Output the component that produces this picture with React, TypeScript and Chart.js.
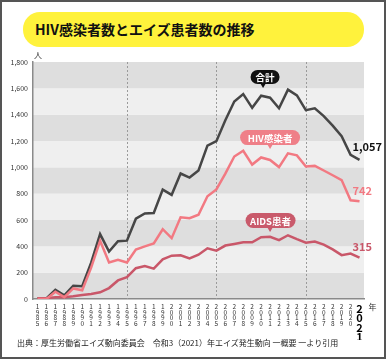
import React, { useEffect, useRef } from 'react';
import { Chart, registerables } from 'chart.js';

Chart.register(...registerables);

const YEARS = ['1985','1986','1987','1988','1989','1990','1991','1992','1993','1994','1995','1996','1997','1998','1999','2000','2001','2002','2003','2004','2005','2006','2007','2008','2009','2010','2011','2012','2013','2014','2015','2016','2017','2018','2019','2020','2021'];
const HIV = [0,0,55,14,80,66,238,442,277,298,277,376,400,422,530,462,621,614,640,780,832,952,1082,1126,1021,1075,1056,1002,1106,1091,1006,1011,976,940,903,750,742];
const AIDS = [6,5,14,14,21,31,38,51,83,141,166,234,250,231,301,329,332,308,336,385,367,406,418,431,431,469,473,447,484,455,428,437,413,377,333,345,315];
const TOTAL = [6,5,69,28,101,97,276,493,360,439,443,610,650,653,831,791,953,922,976,1165,1199,1358,1500,1557,1452,1544,1529,1449,1590,1546,1434,1448,1389,1317,1236,1095,1057];
const DIVIDER_YEARS = ['1995','2005','2015'];
const Y_MAX = 1800;
const Y_STEP = 200;

const TITLE = 'HIV感染者数とエイズ患者数の推移';
const SOURCE = '出典：厚生労働省エイズ動向委員会　令和3（2021）年エイズ発生動向 一概要 一より引用';

const C_TOTAL = '#464646';
const C_HIV = '#f27982';
const C_AIDS = '#c95769';
const FONT = '"Noto Sans CJK JP", "Noto Sans", sans-serif';

function roundRect(ctx: CanvasRenderingContext2D, x: number, y: number, w: number, h: number, r: number) {
  ctx.beginPath();
  ctx.moveTo(x + r, y);
  ctx.lineTo(x + w - r, y);
  ctx.arcTo(x + w, y, x + w, y + r, r);
  ctx.lineTo(x + w, y + h - r);
  ctx.arcTo(x + w, y + h, x + w - r, y + h, r);
  ctx.lineTo(x + r, y + h);
  ctx.arcTo(x, y + h, x, y + h - r, r);
  ctx.lineTo(x, y + r);
  ctx.arcTo(x, y, x + r, y, r);
  ctx.closePath();
}

function callout(ctx: CanvasRenderingContext2D, cx: number, cy: number, w: number, h: number, text: string, fill: string, ptrX: number) {
  ctx.save();
  ctx.fillStyle = fill;
  roundRect(ctx, cx - w / 2, cy - h / 2, w, h, h / 2);
  ctx.fill();
  ctx.beginPath();
  ctx.moveTo(ptrX - 3, cy + h / 2 - 1);
  ctx.lineTo(ptrX + 3, cy + h / 2 - 1);
  ctx.lineTo(ptrX, cy + h / 2 + 4);
  ctx.closePath();
  ctx.fill();
  ctx.fillStyle = '#ffffff';
  ctx.font = `bold 9.5px ${FONT}`;
  ctx.textAlign = 'center';
  ctx.textBaseline = 'middle';
  ctx.fillText(text, cx, cy + 0.5);
  ctx.restore();
}

const bandsPlugin = {
  id: 'bands',
  beforeDraw(chart: any) {
    const { ctx, chartArea, scales } = chart;
    const y = scales.y;
    ctx.save();
    for (let v = 0, i = 0; v < Y_MAX; v += Y_STEP, i++) {
      const top = y.getPixelForValue(v + Y_STEP);
      const bot = y.getPixelForValue(v);
      ctx.fillStyle = i % 2 === 0 ? '#dedede' : '#efefef';
      ctx.fillRect(chartArea.left, top, chartArea.right - chartArea.left, bot - top);
    }
    ctx.restore();
  },
  beforeDatasetsDraw(chart: any) {
    const { ctx, chartArea, scales } = chart;
    const x = scales.x;
    ctx.save();
    ctx.strokeStyle = '#9a9a9a';
    ctx.lineWidth = 1;
    ctx.setLineDash([2, 2]);
    DIVIDER_YEARS.forEach((yr) => {
      const px = Math.round(x.getPixelForValue(YEARS.indexOf(yr))) + 0.5;
      ctx.beginPath();
      ctx.moveTo(px, chartArea.top);
      ctx.lineTo(px, chartArea.bottom);
      ctx.stroke();
    });
    ctx.restore();
  },
  afterDraw(chart: any) {
    const { ctx, chartArea, scales } = chart;
    const x = scales.x;
    const y = scales.y;
    ctx.save();
    ctx.fillStyle = '#333';
    ctx.font = `8px ${FONT}`;
    ctx.textAlign = 'left';
    ctx.textBaseline = 'middle';
    ctx.fillText('人', chartArea.left + 1, chartArea.top - 7);
    const lastX = x.getPixelForValue(YEARS.length - 1);
    ctx.fillText('年', lastX + 9, chartArea.bottom + 8);

    const ends = [
      { idx: 2, text: TOTAL[TOTAL.length - 1].toLocaleString('en-US'), color: '#111', dy: -13 },
      { idx: 0, text: HIV[HIV.length - 1].toLocaleString('en-US'), color: C_HIV, dy: -10 },
      { idx: 1, text: AIDS[AIDS.length - 1].toLocaleString('en-US'), color: C_AIDS, dy: -11 },
    ];
    ends.forEach((e) => {
      const meta = chart.getDatasetMeta(e.idx);
      const pt = meta.data[meta.data.length - 1];
      ctx.fillStyle = e.color;
      ctx.font = `bold 11px ${FONT}`;
      ctx.textAlign = 'left';
      ctx.textBaseline = 'middle';
      ctx.fillText(e.text, pt.x - 7, pt.y + e.dy);
    });

    const ax = x.getPixelForValue(YEARS.indexOf('2011'));
    callout(ctx, ax - 5, y.getPixelForValue(1686), 29, 14, '合計', '#111111', ax - 7);
    callout(ctx, ax, y.getPixelForValue(1226), 60, 15, 'HIV感染者', '#ef7f88', ax);
    callout(ctx, ax + 0.5, y.getPixelForValue(596), 50, 15, 'AIDS患者', '#c95a6b', ax);
    ctx.restore();
  },
};

export default function App() {
  const ref = useRef<HTMLCanvasElement | null>(null);

  useEffect(() => {
    if (!ref.current) return;
    const chart = new Chart(ref.current, {
      type: 'line',
      data: {
        labels: YEARS,
        datasets: [
          { label: 'HIV感染者', data: HIV, borderColor: C_HIV, borderWidth: 2.5, pointRadius: 0, tension: 0 },
          { label: 'AIDS患者', data: AIDS, borderColor: C_AIDS, borderWidth: 2.5, pointRadius: 0, tension: 0 },
          { label: '合計', data: TOTAL, borderColor: C_TOTAL, borderWidth: 2.5, pointRadius: 0, tension: 0 },
        ],
      },
      options: {
        responsive: false,
        animation: false,
        devicePixelRatio: 1,
        layout: { padding: { left: 0, right: 22, top: 12, bottom: 0 } },
        plugins: { legend: { display: false }, tooltip: { enabled: false } },
        scales: {
          x: {
            offset: true,
            grid: { display: false, drawTicks: false },
            border: { display: true, color: '#8a8a8a', width: 1.5 },
            afterFit: (s: any) => { s.height = 41; },
            ticks: {
              autoSkip: false,
              maxRotation: 0,
              minRotation: 0,
              padding: 5,
              callback: (_v: any, i: number) => YEARS[i].split(''),
              color: (c: any) => (c.index === YEARS.length - 1 ? '#000' : '#333'),
              font: (c: any) =>
                c.index === YEARS.length - 1
                  ? { family: FONT, size: 11, weight: 'bold', lineHeight: 0.85 }
                  : { family: FONT, size: 6.5, lineHeight: 0.85 },
            },
          },
          y: {
            min: 0,
            max: Y_MAX,
            grid: { display: true, color: 'transparent', drawTicks: false },
            border: { display: true, color: '#8a8a8a', width: 1.5 },
            afterFit: (s: any) => { s.width = 33; },
            ticks: {
              stepSize: Y_STEP,
              padding: 5,
              color: '#333',
              font: { family: FONT, size: 7 },
              callback: (v: any) => Number(v).toLocaleString('en-US'),
            },
          },
        },
      },
      plugins: [bandsPlugin],
    } as any);
    return () => chart.destroy();
  }, []);

  return (
    <div style={{ position: 'fixed', left: 0, top: 0, width: 386, height: 360, background: '#fff', overflow: 'hidden' }}>
      <div style={{ position: 'absolute', left: 0, top: 0, width: 386, height: 359, border: '2px solid #555', boxSizing: 'border-box' }} />
      <div
        style={{
          position: 'absolute', left: 23, top: 12, width: 341, height: 35, background: '#fff23c', borderRadius: 17,
          fontFamily: FONT, fontWeight: 'bold', fontSize: 14, lineHeight: '35px', paddingLeft: 12, boxSizing: 'border-box', color: '#111', whiteSpace: 'nowrap',
        }}
      >
        {TITLE}
      </div>
      <canvas ref={ref} width={386} height={290} style={{ position: 'absolute', left: 0, top: 50, width: 386, height: 290 }} />
      <div style={{ position: 'absolute', left: 17, top: 337, fontFamily: FONT, fontSize: 8, color: '#222', whiteSpace: 'nowrap', lineHeight: '12px' }}>
        {SOURCE}
      </div>
    </div>
  );
}
